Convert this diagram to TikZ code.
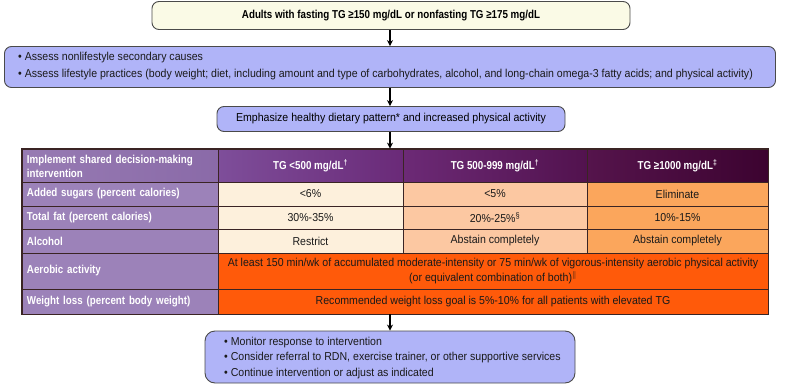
\documentclass[tikz,border=0pt]{standalone}
\usepackage{fontspec}
\setmainfont{Liberation Sans}[FakeStretch=0.92, BoldFeatures={FakeStretch=0.85}]
\usetikzlibrary{arrows.meta}
\definecolor{cream}{HTML}{FAFAE6}
\definecolor{peri}{HTML}{B0B4F8}
\definecolor{boxline}{HTML}{4A4A4A}
\definecolor{tline}{HTML}{3A2424}
\definecolor{pcol}{HTML}{9C82B9}
\definecolor{cA}{HTML}{FDF0DC}
\definecolor{cB}{HTML}{FCC8A2}
\definecolor{cC}{HTML}{FBA65C}
\definecolor{cD}{HTML}{FF5A0A}
\definecolor{txt}{HTML}{1A1A1A}
\definecolor{hA}{HTML}{977BB3}
\definecolor{hB}{HTML}{8A6AA8}
\definecolor{hC}{HTML}{7E4E9A}
\definecolor{hD}{HTML}{6A2A78}
\definecolor{hE}{HTML}{6C2A76}
\definecolor{hF}{HTML}{52124E}
\definecolor{hG}{HTML}{55144C}
\definecolor{hH}{HTML}{3C0330}
\newcommand{\fs}{\fontsize{11.5}{14}\selectfont}
\tikzset{
  box/.style={draw=boxline, line width=0.9pt, rounded corners=7pt, inner sep=0pt},
  flow/.style={-{Stealth[length=6pt,width=6pt]}, line width=1.3pt, black},
  cell/.style={draw=tline, line width=0.8pt, inner sep=0pt, text=txt, font=\fs, align=center},
  lcell/.style={cell, fill=pcol, text=white, font=\fs\bfseries, align=left, text width=#1},
  hcell/.style={cell, text=white, font=\fs\bfseries},
  btxt/.style={font=\fs, text=txt, align=left, inner sep=0pt, anchor=west}
}
\begin{document}
\begin{tikzpicture}[x=1pt,y=-1pt]
\useasboundingbox (0,0) rectangle (785,388);
% top box
\node[box, fill=cream, minimum width=478pt, minimum height=28pt] (top) at (391,15.5)
  {\fs\bfseries Adults with fasting TG ≥150 mg/dL or nonfasting TG ≥175 mg/dL};
% assess box
\node[box, fill=peri, minimum width=771pt, minimum height=41pt] (assess) at (390,67) {};
\node[btxt] (a1) at (18,58) {• Assess nonlifestyle secondary causes};
\node[btxt] (a2) at (18,75) {• Assess lifestyle practices (body weight; diet, including amount and type of carbohydrates, alcohol, and long-chain omega-3 fatty acids; and physical activity)};
% emphasize box
\node[box, fill=peri, minimum width=348pt, minimum height=25pt] (emph) at (391,119)
  {\fs Emphasize healthy dietary pattern* and increased physical activity};
% table
\node[lcell=186pt, left color=hA, right color=hB, minimum width=196pt, minimum height=33pt] (h1) at (120,166) {Implement shared decision-making\\intervention};
\node[hcell, left color=hC, right color=hD, minimum width=185pt, minimum height=33pt] (h2) at (310.5,165.5) {TG <500 mg/dL\textsuperscript{†}};
\node[hcell, left color=hE, right color=hF, minimum width=184pt, minimum height=33pt] (h3) at (495,165.5) {TG 500-999 mg/dL\textsuperscript{†}};
\node[hcell, left color=hG, right color=hH, minimum width=181pt, minimum height=33pt] (h4) at (677.5,165.5) {TG ≥1000 mg/dL\textsuperscript{‡}};
% row 2
\node[lcell=186pt, minimum width=196pt, minimum height=24pt] (r21) at (120,194) {Added sugars (percent calories)};
\node[cell, fill=cA, minimum width=185pt, minimum height=24pt] (r22) at (310.5,194) {<6\%};
\node[cell, fill=cB, minimum width=184pt, minimum height=24pt] (r23) at (495,194) {<5\%};
\node[cell, fill=cC, minimum width=181pt, minimum height=24pt] (r24) at (677.5,194) {Eliminate};
% row 3
\node[lcell=186pt, minimum width=196pt, minimum height=23pt] (r31) at (120,217.5) {Total fat (percent calories)};
\node[cell, fill=cA, minimum width=185pt, minimum height=23pt] (r32) at (310.5,217.5) {30\%-35\%};
\node[cell, fill=cB, minimum width=184pt, minimum height=23pt] (r33) at (495,217.5) {20\%-25\%\textsuperscript{§}};
\node[cell, fill=cC, minimum width=181pt, minimum height=23pt] (r34) at (677.5,217.5) {10\%-15\%};
% row 4
\node[lcell=186pt, minimum width=196pt, minimum height=24pt] (r41) at (120,241) {Alcohol};
\node[cell, fill=cA, minimum width=185pt, minimum height=24pt] (r42) at (310.5,241) {Restrict};
\node[cell, fill=cB, minimum width=184pt, minimum height=24pt] (r43) at (495,241) {Abstain completely};
\node[cell, fill=cC, minimum width=181pt, minimum height=24pt] (r44) at (677.5,241) {Abstain completely};
% row 5
\node[lcell=186pt, minimum width=196pt, minimum height=36pt] (r51) at (120,271) {Aerobic activity};
\node[cell, fill=cD, font=\fontsize{11.5}{15}\selectfont, minimum width=550pt, minimum height=36pt] (r52) at (493,271) {At least 150 min/wk of accumulated moderate-intensity or 75 min/wk of vigorous-intensity aerobic physical activity\\(or equivalent combination of both)\textsuperscript{\(\Vert\)}};
% row 6
\node[lcell=186pt, minimum width=196pt, minimum height=25pt] (r61) at (120,301.5) {Weight loss (percent body weight)};
\node[cell, fill=cD, minimum width=550pt, minimum height=25pt] (r62) at (493,301.5) {Recommended weight loss goal is 5\%-10\% for all patients with elevated TG};
\draw[tline, line width=1.1pt] (22,149) rectangle (r62.south east);
% bottom box
\node[box, rounded corners=10pt, fill=peri, minimum width=370pt, minimum height=52pt] (mon) at (390,357) {};
\node[btxt] (m1) at (224,343) {• Monitor response to intervention};
\node[btxt] (m2) at (224,358) {• Consider referral to RDN, exercise trainer, or other supportive services};
\node[btxt] (m3) at (224,373.5) {• Continue intervention or adjust as indicated};
% arrows
\draw[flow] (top.south -| 390,0) -- (assess.north -| 390,0);
\draw[flow] (assess.south -| 390,0) -- (emph.north -| 390,0);
\draw[flow] (emph.south -| 390,0) -- (h3.north -| 390,0);
\draw[flow] (r62.south -| 390,0) -- (mon.north -| 390,0);
\end{tikzpicture}
\end{document}
